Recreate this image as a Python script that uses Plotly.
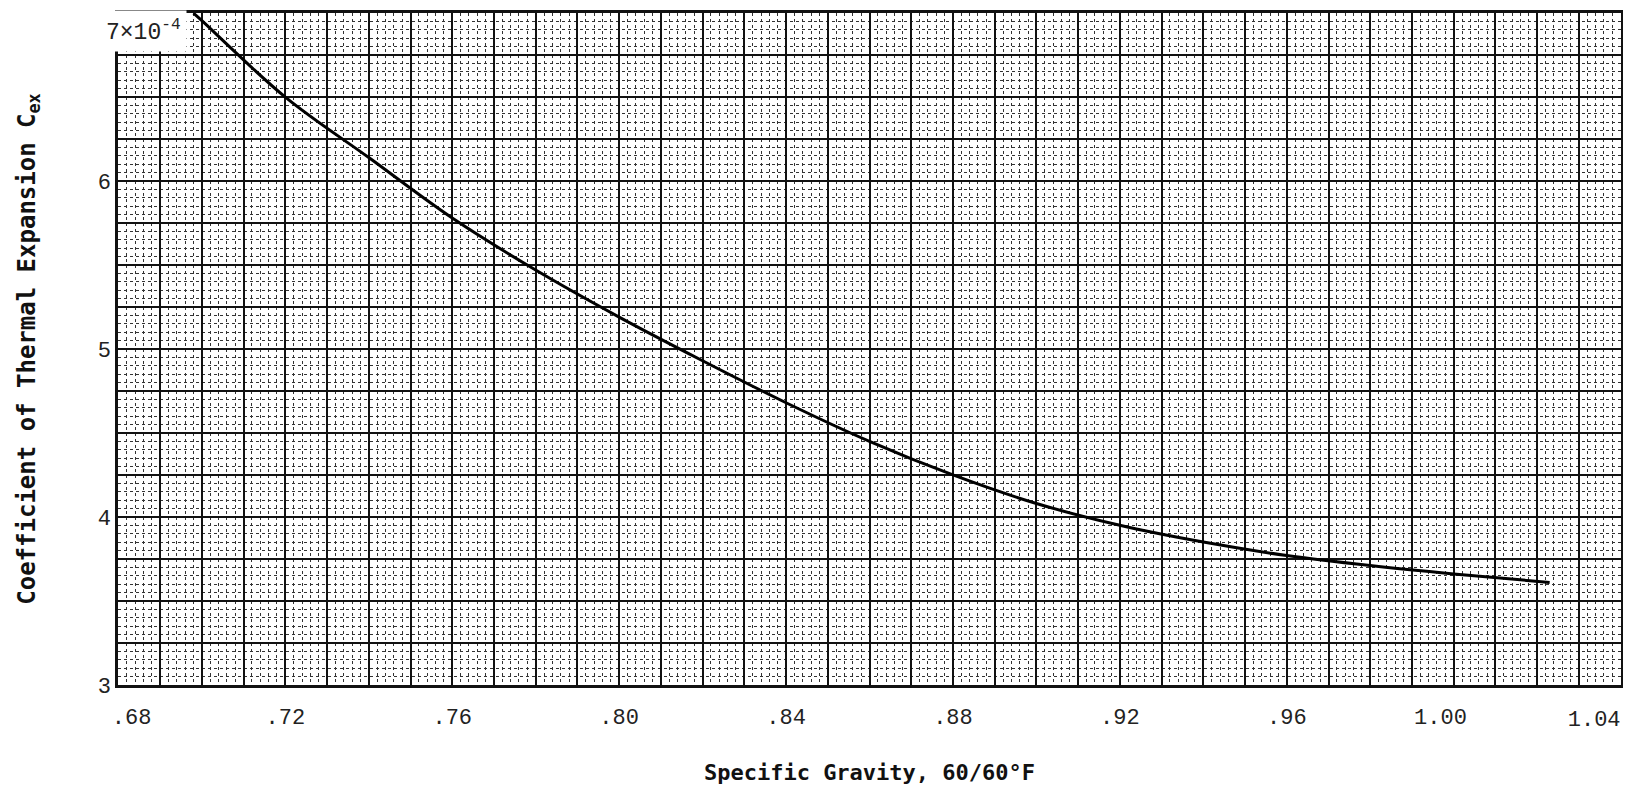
import plotly.graph_objects as go

# Data (Cex in units of 1e-4)
specific_gravity = [0.698, 0.70, 0.72, 0.74, 0.76, 0.78, 0.80, 0.82, 0.84, 0.86,
                    0.88, 0.90, 0.92, 0.94, 0.96, 0.98, 1.00, 1.023]
cex = [7.00, 6.955, 6.50, 6.14, 5.78, 5.47, 5.19, 4.93, 4.68, 4.45,
       4.25, 4.08, 3.95, 3.85, 3.77, 3.71, 3.66, 3.61]

NB = "\u00a0"
x_tick_vals = [0.68, 0.72, 0.76, 0.80, 0.84, 0.88, 0.92, 0.96, 1.00]
x_tick_text = [NB * 2 + ".68", ".72", ".76", ".80", ".84", ".88", ".92", ".96", "1.00" + NB * 2]
x_end_val = [1.04]
x_end_text = ["1.04"]
y_tick_vals = [3, 4, 5, 6]
y_tick_text = ["3", "4", "5", "6"]
top_label = "7×10<sup>-4</sup>"

X_RANGE = [0.6799, 1.0401]
Y_RANGE = [2.999, 7.001]

# heavy grid every 0.01 (x) and 0.25 (y); labels only at chosen values
x_grid = [round(0.68 + 0.01 * i, 2) for i in range(37)]
x_text = []
for v in x_grid:
    match = [t for tv, t in zip(x_tick_vals, x_tick_text) if abs(tv - v) < 1e-9]
    x_text.append(match[0] if match else "")
y_grid = [3 + 0.25 * i for i in range(17)]
y_text = []
for v in y_grid:
    match = [t for tv, t in zip(y_tick_vals, y_tick_text) if abs(tv - v) < 1e-9]
    y_text.append(match[0] if match else "")

fig = go.Figure()
fig.add_trace(go.Scatter(
    x=specific_gravity, y=cex, mode="lines",
    line=dict(color="black", width=3, shape="spline", smoothing=1.0),
    showlegend=False, hoverinfo="skip"))
# same curve, invisible, bound to the overlay axis that carries the end label
fig.add_trace(go.Scatter(
    x=specific_gravity, y=cex, mode="lines", xaxis="x2",
    line=dict(color="rgba(0,0,0,0)", width=0), showlegend=False, hoverinfo="skip"))

tick_font = dict(family="Liberation Mono, Courier New, monospace", size=22, color="#222")
title_font_x = dict(family="DejaVu Sans Mono, monospace", size=22, color="#111")
title_font_y = dict(family="DejaVu Sans Mono, monospace", size=24, color="#111")

fig.update_layout(
    width=1615, height=777,
    margin=dict(l=110, r=2, t=5, b=100),
    paper_bgcolor="white", plot_bgcolor="white",
    xaxis=dict(
        range=X_RANGE, tickmode="array", tickvals=x_grid, ticktext=x_text,
        showgrid=True, gridcolor="#111", gridwidth=1.7,
        showline=True, linecolor="#111", linewidth=2.5, mirror=True,
        ticks="", tickfont=tick_font, zeroline=False, ticklabelstandoff=10,
        automargin=False,
        minor=dict(tick0=0.68, dtick=0.002, showgrid=True, gridcolor="#333",
                   gridwidth=1, griddash="dot"),
        title=dict(text="<b>Specific Gravity, 60/60°F</b>", font=title_font_x, standoff=42),
    ),
    xaxis2=dict(
        range=X_RANGE, overlaying="x", anchor="y", side="bottom",
        tickmode="array", tickvals=x_end_val, ticktext=x_end_text,
        ticklabelposition="outside left", ticklabelstandoff=18,
        showgrid=False, showline=False, zeroline=False, ticks="",
        tickfont=tick_font, automargin=False,
    ),
    yaxis=dict(
        range=Y_RANGE, tickmode="array", tickvals=y_grid, ticktext=y_text,
        showgrid=True, gridcolor="#111", gridwidth=1.7,
        showline=True, linecolor="#111", linewidth=2.5, mirror=True,
        ticks="", tickfont=tick_font, zeroline=False, automargin=False,
        minor=dict(tick0=3, dtick=0.05, showgrid=True, gridcolor="#333",
                   gridwidth=1, griddash="dot"),
        title=dict(text="<b>Coefficient of Thermal Expansion C<sub>ex</sub></b>",
                   font=title_font_y, standoff=56),
    ),
    annotations=[dict(
        text=top_label, x=0.6965, y=7, xref="x", yref="y",
        xanchor="right", yanchor="top", showarrow=False, yshift=3,
        font=dict(family="Liberation Mono, Courier New, monospace", size=23, color="#222"),
        bgcolor="white", borderpad=5)],
)

fig.write_html("out.html")
